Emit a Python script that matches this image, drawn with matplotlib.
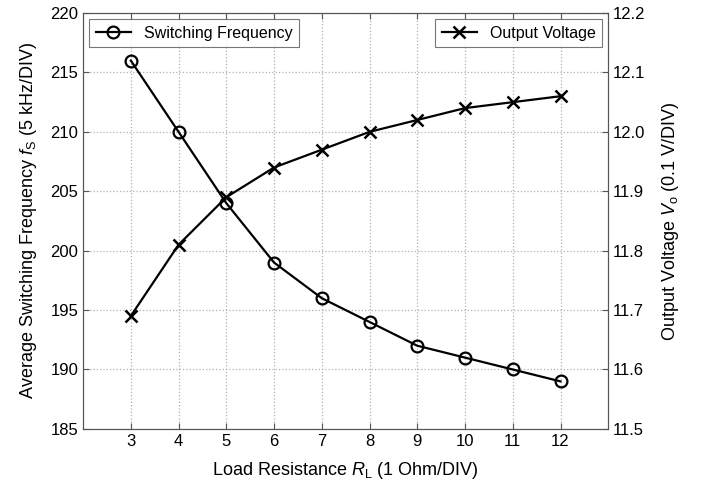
import matplotlib
matplotlib.use("Agg")
import matplotlib.pyplot as plt

plt.rcParams['font.family'] = ['Liberation Sans', 'DejaVu Sans']
plt.rcParams['mathtext.fontset'] = 'custom'
plt.rcParams['mathtext.rm'] = 'Liberation Sans'
plt.rcParams['mathtext.it'] = 'Liberation Sans:italic'

load_resistance = [3, 4, 5, 6, 7, 8, 9, 10, 11, 12]
switching_freq = [216, 210, 204, 199, 196, 194, 192, 191, 190, 189]
output_voltage = [11.69, 11.81, 11.89, 11.94, 11.97, 12.00, 12.02, 12.04, 12.05, 12.06]
x_ticks = [3, 4, 5, 6, 7, 8, 9, 10, 11, 12]
left_ticks = [185, 190, 195, 200, 205, 210, 215, 220]
right_ticks = [11.5, 11.6, 11.7, 11.8, 11.9, 12.0, 12.1, 12.2]

fig = plt.figure(figsize=(7.04, 4.83), dpi=100)
ax = fig.add_axes([0.118, 0.112, 0.746, 0.861])
ax2 = ax.twinx()

ax.plot(load_resistance, switching_freq, '-o', color='black', lw=1.6,
        markersize=8.5, markerfacecolor='none', markeredgewidth=1.6,
        label='Switching Frequency')
ax2.plot(load_resistance, output_voltage, '-x', color='black', lw=1.6,
         markersize=8.5, markeredgewidth=1.8, label='Output Voltage')

ax.set_xlim(2, 13)
ax.set_ylim(185, 220)
ax2.set_ylim(11.5, 12.2)
ax.set_xticks(x_ticks)
ax.set_yticks(left_ticks)
ax2.set_yticks(right_ticks)
ax2.set_yticklabels([f"{v:.1f}" for v in right_ticks])

ax.grid(True, linestyle=':', color='#b0b0b0', lw=0.9)
for a in (ax, ax2):
    a.tick_params(direction='in', labelsize=12, length=4, color='#555555')
    for s in a.spines.values():
        s.set_color('#555555')
ax.tick_params(top=True)

ax.set_xlabel(r'Load Resistance $\mathit{R}_{\mathrm{L}}$ (1 Ohm/DIV)', fontsize=13, labelpad=8)
ax.set_ylabel(r'Average Switching Frequency $\mathit{f}_{\mathrm{S}}$ (5 kHz/DIV)', fontsize=13, labelpad=8)
ax2.set_ylabel(r'Output Voltage $\mathit{V}_{\mathrm{o}}$ (0.1 V/DIV)', fontsize=13, labelpad=10)

leg1 = ax.legend(loc='upper left', fontsize=11.5, fancybox=False, edgecolor='#555555',
                 handlelength=2.2, borderaxespad=0.4)
leg1.get_frame().set_linewidth(0.8)
leg2 = ax2.legend(loc='upper right', fontsize=11.5, fancybox=False, edgecolor='#555555',
                  handlelength=2.2, borderaxespad=0.4)
leg2.get_frame().set_linewidth(0.8)

fig.savefig('out.png', dpi=100)
